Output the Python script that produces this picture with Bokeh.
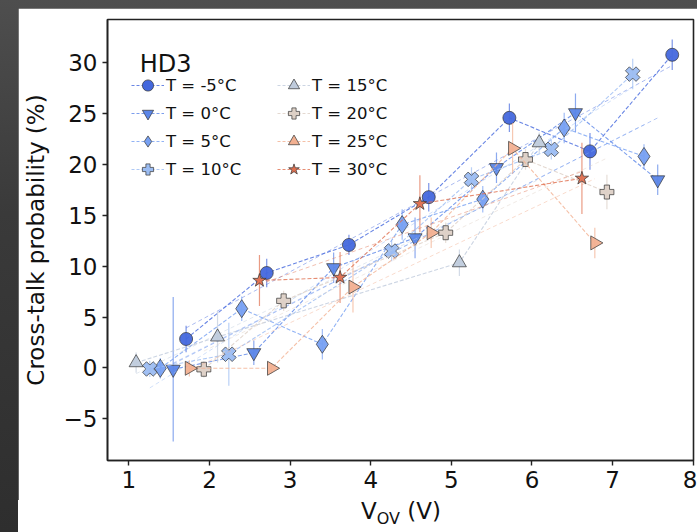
import numpy as np
from bokeh.plotting import figure
from bokeh.layouts import column
from bokeh.models import (Range1d, Legend, LegendItem, Label, FixedTicker, Div,
                          GlobalInlineStyleSheet, ColumnDataSource)
from bokeh.embed import file_html
from bokeh.resources import INLINE

# ---------------- data ----------------
series_labels = ["T = -5°C", "T = 0°C", "T = 5°C", "T = 10°C",
                 "T = 15°C", "T = 20°C", "T = 25°C", "T = 30°C"]

vov_m5 = [1.71, 2.71, 3.73, 4.72, 5.72, 6.72, 7.74]
xt_m5 = [2.85, 9.34, 12.1, 16.8, 24.6, 21.3, 30.8]
err_m5 = [1.3, 1.4, 1.0, 1.4, 1.4, 1.8, 1.5]

vov_0 = [1.55, 2.55, 3.54, 4.55, 5.56, 6.54, 7.56]
xt_0 = [-0.13, 1.5, 9.86, 12.8, 19.7, 25.1, 18.5]
err_0 = [7.1, 1.2, 1.5, 2.0, 1.5, 1.9, 1.5]

vov_5 = [1.39, 2.40, 3.40, 4.39, 5.39, 6.40, 7.39]
xt_5 = [-0.03, 5.83, 2.33, 14.1, 16.6, 23.6, 20.8]
err_5 = [1.0, 1.2, 1.5, 1.5, 1.3, 1.5, 1.2]

vov_10 = [1.26, 2.24, 4.26, 5.25, 6.24, 7.25]
xt_10 = [-0.1, 1.35, 11.5, 18.55, 21.5, 28.9]
err_10 = [0.8, 3.1, 1.0, 1.2, 1.0, 1.5]

vov_15 = [1.09, 2.10, 5.10, 6.09]
xt_15 = [0.52, 3.05, 10.35, 22.15]
err_15 = [1.0, 2.5, 1.3, 1.0]

vov_20 = [1.93, 2.92, 4.93, 5.92, 6.93]
xt_20 = [-0.13, 6.6, 13.3, 20.5, 17.3]
err_20 = [0.8, 1.0, 1.0, 1.0, 1.7]

vov_25 = [1.75, 2.77, 3.78, 4.75, 5.76, 6.78]
xt_25 = [-0.03, -0.03, 7.96, 13.3, 21.6, 12.3]
err_25 = [0.8, 0.5, 2.5, 1.5, 2.5, 1.5]

vov_30 = [2.62, 3.62, 4.61, 6.62]
xt_30 = [8.6, 8.9, 16.15, 18.65]
err_30 = [2.5, 2.5, 2.8, 3.5]

x_ticks = [1, 2, 3, 4, 5, 6, 7, 8]
y_ticks = [-5, 0, 5, 10, 15, 20, 25, 30]

all_vov = [vov_m5, vov_0, vov_5, vov_10, vov_15, vov_20, vov_25, vov_30]
all_xt = [xt_m5, xt_0, xt_5, xt_10, xt_15, xt_20, xt_25, xt_30]
all_err = [err_m5, err_0, err_5, err_10, err_15, err_20, err_25, err_30]

colors = ["#4468dd", "#5b86e8", "#77a0f2", "#9bbcf2",
          "#bfcbdc", "#ddd0c6", "#f2b091", "#e07050"]
markers = ["circle", "inverted_triangle", "diamond", "plus",
           "triangle", "plus", "triangle", "star"]
angles = [0, 0, 0, np.pi / 4, 0, 0, -np.pi / 2, 0]
sizes = [13, 14, 18, 15, 14, 14, 14, 14]

FONT = "DejaVu Sans"

p = figure(width=679, height=492, output_backend="svg", toolbar_location=None,
           x_range=Range1d(0.735, 8.004), y_range=Range1d(-9.1, 34.27),
           min_border_left=89, min_border_right=4, min_border_top=11,
           min_border_bottom=40, border_fill_color="white",
           background_fill_color="white", margin=0)
p.stylesheets = [GlobalInlineStyleSheet(css="""
html { background: linear-gradient(to bottom, #4e4e4e 0%, #3a3a3a 40%, #2e2e2e 100%); min-height: 100%; }
body { margin: 8px 0 0 18px; overflow: hidden; background: transparent; }
""")]

p.grid.visible = False
p.outline_line_color = "#222222"
p.outline_line_width = 1.6

for ax in (p.xaxis[0], p.yaxis[0]):
    ax.axis_line_color = "#222222"
    ax.axis_line_width = 1.6
    ax.major_tick_line_color = "#222222"
    ax.major_tick_line_width = 1.4
    ax.major_tick_in = 0
    ax.major_tick_out = 5
    ax.minor_tick_line_color = None
    ax.major_label_text_font = FONT
    ax.major_label_text_font_size = "23px"
    ax.major_label_text_color = "#111111"
    ax.major_label_standoff = 5

p.xaxis.ticker = FixedTicker(ticks=x_ticks)
p.yaxis.ticker = FixedTicker(ticks=y_ticks)
p.yaxis.major_label_overrides = {t: str(t).replace("-", "\u2212") for t in y_ticks}
p.yaxis.axis_label = "Cross-talk probability (%)"
p.yaxis.axis_label_text_font = FONT
p.yaxis.axis_label_text_font_size = "23px"
p.yaxis.axis_label_text_font_style = "normal"
p.yaxis.axis_label_text_color = "#111111"
p.yaxis.axis_label_standoff = 12

items_left, items_right = [], []
for i in range(8):
    xs = np.array(all_vov[i], dtype=float)
    ys = np.array(all_xt[i], dtype=float)
    es = np.array(all_err[i], dtype=float)
    order = np.argsort(xs)
    # linear fit across data span (derived from data)
    k, b = np.polyfit(xs, ys, 1)
    fx = np.array([xs.min(), xs.max()])
    p.line(fx, k * fx + b, line_color=colors[i], line_alpha=0.45,
           line_width=1, line_dash="4 3")
    p.line(xs[order], ys[order], line_color=colors[i], line_alpha=0.8,
           line_width=1.1, line_dash="4 2")
    src = ColumnDataSource(dict(x=xs, y=ys, lo=ys - es, hi=ys + es))
    p.segment(x0="x", y0="lo", x1="x", y1="hi", source=src,
              line_color=colors[i], line_alpha=0.7, line_width=1.2)
    p.scatter(x="x", y="y", source=src, marker=markers[i], size=sizes[i],
              angle=angles[i], fill_color=colors[i], fill_alpha=0.95,
              line_color="#333333", line_alpha=0.7, line_width=1)
    # legend proxies (not drawn in plot area)
    lg_line = p.line([np.nan], [np.nan], line_color=colors[i], line_alpha=0.8,
                     line_width=1.1, line_dash="3 2")
    lg_mark = p.scatter([np.nan], [np.nan], marker=markers[i], size=12,
                        angle=angles[i], fill_color=colors[i],
                        line_color="#333333", line_alpha=0.7, line_width=1)
    item = LegendItem(label=series_labels[i], renderers=[lg_line, lg_mark])
    (items_left if i < 4 else items_right).append(item)

for items, vx in ((items_left, 24), (items_right, 170)):
    lg = Legend(items=items, location=(vx, 277), orientation="vertical",
                background_fill_alpha=0, border_line_color=None,
                padding=0, margin=0, spacing=0, glyph_width=33, glyph_height=28,
                label_standoff=2, label_text_font=FONT,
                label_text_font_size="16.5px", label_text_color="#111111",
                label_height=20)
    p.add_layout(lg, "center")

p.add_layout(Label(x=1.134, y=29.92, text="HD3", text_font=FONT,
                   text_font_size="24px", text_color="#111111",
                   text_baseline="alphabetic"))

# x-axis label with subscript, as real HTML text
xlabel = Div(text='V<sub style="font-size:16px;vertical-align:-5px;">OV</sub> (V)',
             width=679, height=32, margin=0,
             styles={"font-family": "DejaVu Sans", "font-size": "23px",
                     "color": "#111111", "line-height": "23px",
                     "padding-left": "343px", "background": "white",
                     "box-sizing": "border-box"})

layout = column(p, xlabel, spacing=0, margin=0)

open("out.html", "w").write(file_html(layout, INLINE))
